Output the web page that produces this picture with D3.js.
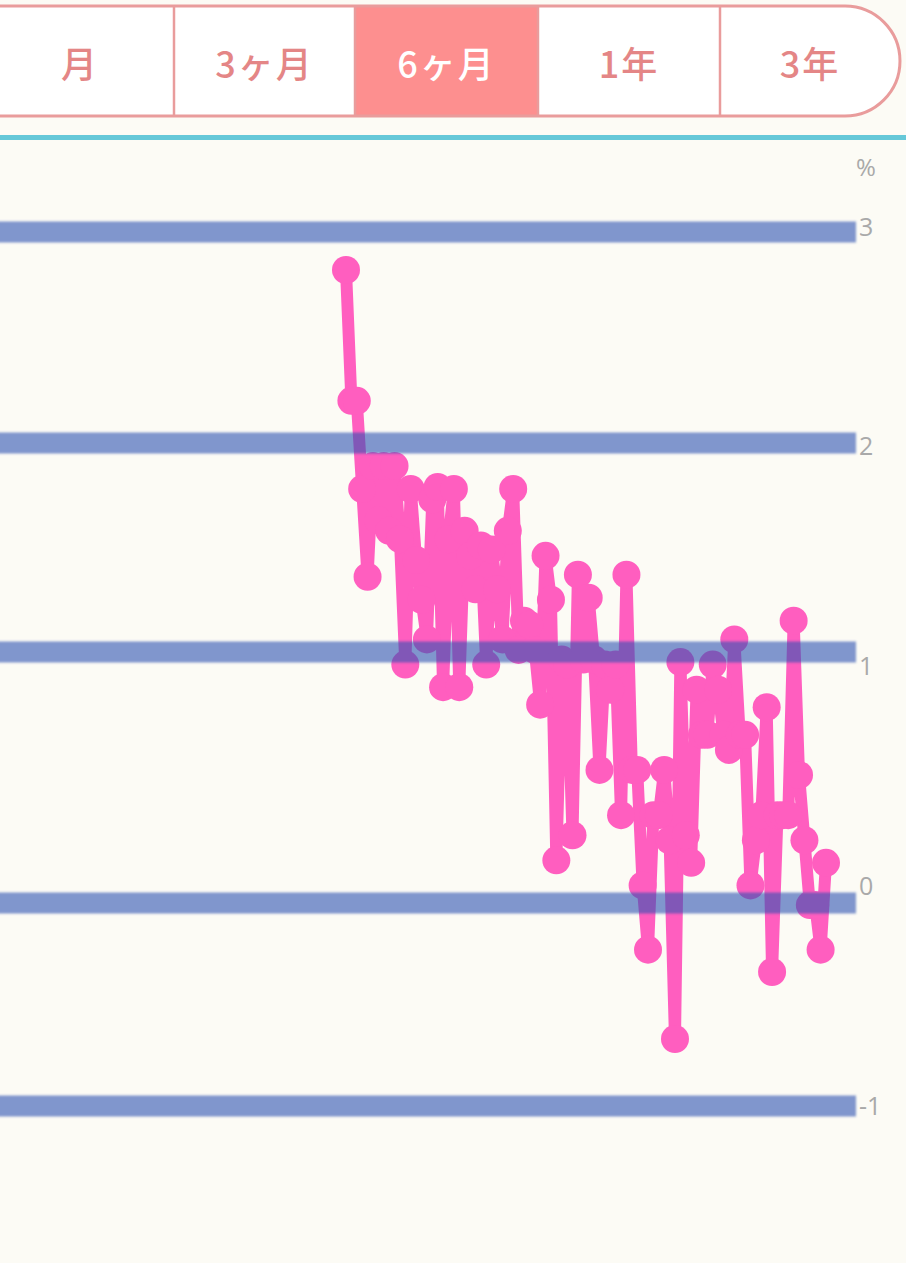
<!DOCTYPE html>
<html>
<head>
<meta charset="utf-8">
<script src="https://cdn.jsdelivr.net/npm/d3@7/dist/d3.min.js"></script>
<style>
  html, body { margin: 0; padding: 0; background: #fcfbf5; }
  svg { display: block; }
</style>
</head>
<body>
<div id="chart"></div>
<script>
// ---- data ----
const tabLabels = ["月", "3ヶ月", "6ヶ月", "1年", "3年"];
const selectedTab = "6ヶ月";
const yTicks = [3, 2, 1, 0, -1];
const unitLabel = "%";
const values = [
  2.82, 2.20, 2.20, 1.78, 1.36, 1.89, 1.63, 1.89, 1.58, 1.89,
  1.54, 0.95, 1.78, 1.44, 1.25, 1.06, 1.73, 1.79, 0.86, 1.54,
  1.78, 0.86, 1.58, 1.46, 1.30, 1.51, 0.95, 1.49, 1.30, 1.06,
  1.58, 1.78, 1.01, 1.15, 1.13, 1.01, 0.79, 1.46, 1.25, 0.17,
  0.97, 0.95, 0.27, 1.37, 0.97, 1.26, 0.97, 0.53, 0.95, 0.85,
  0.95, 0.35, 1.37, 0.53, 0.53, 0.07, -0.23, 0.35, 0.35, 0.53,
  0.25, -0.67, 0.96, 0.27, 0.16, 0.85, 0.67, 0.67, 0.95, 0.85,
  0.67, 0.61, 1.06, 0.67, 0.67, 0.07, 0.25, 0.35, 0.78, -0.34,
  0.35, 0.35, 0.35, 1.15, 0.51, 0.25, -0.01, -0.01, -0.23, 0.16
];

// ---- layout ----
const W = 906, H = 1263;
const svg = d3.select("#chart").append("svg")
  .attr("width", W).attr("height", H)
  .attr("viewBox", `0 0 ${W} ${H}`);

const defs = svg.append("defs");
defs.append("filter").attr("id", "soft")
  .attr("x", "-5%").attr("y", "-50%").attr("width", "110%").attr("height", "200%")
  .append("feGaussianBlur").attr("stdDeviation", 1.2);

svg.append("rect").attr("width", W).attr("height", H).attr("fill", "#fcfbf5");

// ---- tab bar ----
const tabX = d3.scaleOrdinal().domain(tabLabels).range([-10, 174, 355, 538, 720]);
const tabEnd = d3.scaleOrdinal().domain(tabLabels).range([174, 355, 538, 720, 900]);
const tabTop = 6, tabBot = 116, tabR = 55;
const border = "#e99c9c";

const tabs = svg.append("g");
tabs.append("path")
  .attr("d", `M-10,${tabTop} H${900 - tabR} A${tabR},${tabR} 0 0 1 ${900 - tabR},${tabBot} H-10 Z`)
  .attr("fill", "#ffffff");
tabs.append("rect")
  .attr("x", tabX(selectedTab)).attr("y", tabTop)
  .attr("width", tabEnd(selectedTab) - tabX(selectedTab))
  .attr("height", tabBot - tabTop)
  .attr("fill", "#fd8f8f");
tabs.append("path")
  .attr("d", `M-10,${tabTop} H${900 - tabR} A${tabR},${tabR} 0 0 1 ${900 - tabR},${tabBot} H-10`)
  .attr("fill", "none").attr("stroke", border).attr("stroke-width", 3);
tabs.selectAll("line.div").data(tabLabels.slice(1)).join("line")
  .attr("class", "div")
  .attr("x1", d => tabX(d)).attr("x2", d => tabX(d))
  .attr("y1", tabTop).attr("y2", tabBot)
  .attr("stroke", border).attr("stroke-width", 2.5);
const tabCenter = d => d === tabLabels[0] ? 80 : (tabX(d) + tabEnd(d)) / 2;
tabs.selectAll("text.tab").data(tabLabels).join("text")
  .attr("class", "tab")
  .attr("x", d => tabCenter(d))
  .attr("y", 62)
  .attr("text-anchor", "middle")
  .attr("dominant-baseline", "central")
  .attr("font-family", "'Noto Sans CJK JP', sans-serif")
  .attr("font-weight", 500)
  .attr("font-size", 36)
  .attr("letter-spacing", 2)
  .attr("fill", d => d === selectedTab ? "#ffffff" : "#e48686")
  .text(d => d);

// teal separator
svg.append("rect").attr("x", 0).attr("y", 135).attr("width", W).attr("height", 5).attr("fill", "#66c8d8");

// ---- scales ----
const y = d3.scaleLinear().domain([-1, 0, 1, 2, 3]).range([1106, 903, 652, 443, 232]);
const yLabel = d3.scaleLinear().domain([-1, 3]).range([1106, 227]);
const x = d3.scaleLinear().domain([0, values.length - 1]).range([346, 826]);

// ---- data series (under the grid) ----
const pink = "#ff5ebf";
const line = d3.line().x((d, i) => x(i)).y(d => y(d));
svg.append("path").datum(values)
  .attr("d", line)
  .attr("fill", "none")
  .attr("stroke", pink)
  .attr("stroke-width", 12)
  .attr("stroke-linejoin", "round");
svg.append("g").selectAll("circle").data(values).join("circle")
  .attr("cx", (d, i) => x(i))
  .attr("cy", d => y(d))
  .attr("r", 14)
  .attr("fill", pink);

// ---- gridlines (marker-like, translucent over series) ----
svg.append("g").attr("filter", "url(#soft)")
  .selectAll("line").data(yTicks).join("line")
  .attr("x1", -5).attr("x2", 856)
  .attr("y1", d => y(d)).attr("y2", d => y(d))
  .attr("stroke", "#2c52b2")
  .attr("stroke-opacity", 0.6)
  .attr("stroke-width", 21);

// ---- tick labels ----
const axis = d3.axisRight(yLabel).tickValues(yTicks).tickSize(0).tickPadding(0).tickFormat(d => String(d));
const ag = svg.append("g").attr("transform", "translate(859,0)").call(axis);
ag.select(".domain").remove();
ag.selectAll("text")
  .attr("font-family", "'Open Sans', sans-serif")
  .attr("font-size", 25)
  .attr("fill", "#a9a9a9");

svg.append("text")
  .attr("x", 856).attr("y", 176)
  .attr("font-family", "'Open Sans', sans-serif")
  .attr("font-size", 24)
  .attr("fill", "#a9a9a9")
  .text(unitLabel);
</script>
</body>
</html>
